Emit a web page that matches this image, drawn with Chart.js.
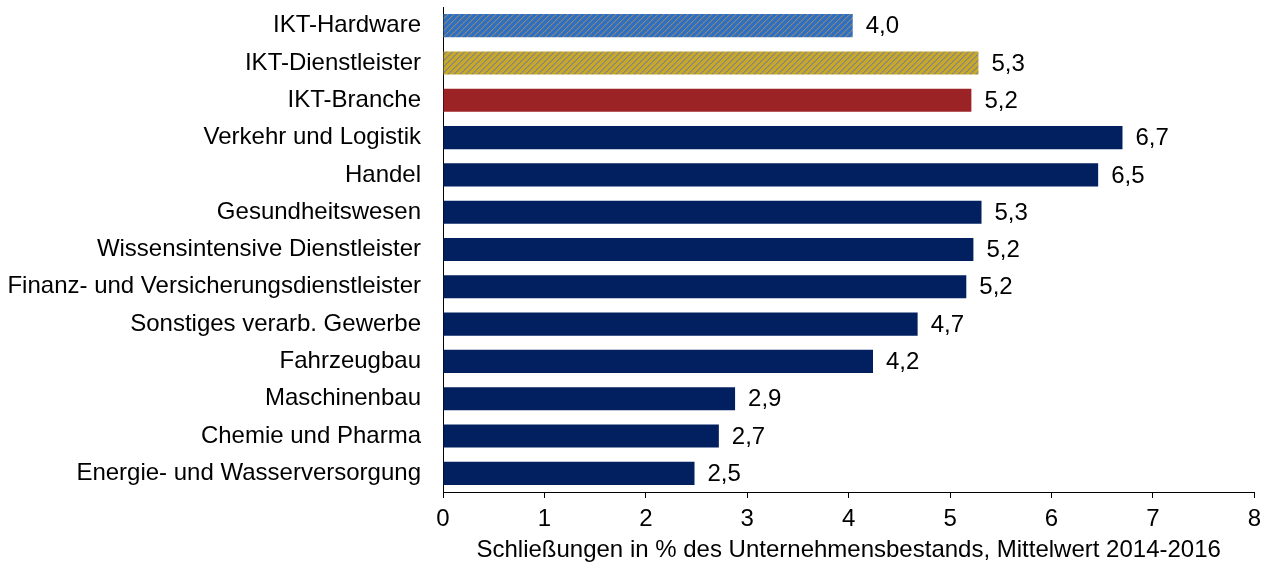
<!DOCTYPE html>
<html>
<head>
<meta charset="utf-8">
<script src="https://cdn.jsdelivr.net/npm/chart.js@4"></script>
<style>
  html, body { margin: 0; padding: 0; background: #fff; }
  #wrap { width: 1268px; height: 565px; }
</style>
</head>
<body>
<div id="wrap"><canvas id="myChart" width="1268" height="565"></canvas></div>
<script>
"use strict";
const categories = [
  "IKT-Hardware",
  "IKT-Dienstleister",
  "IKT-Branche",
  "Verkehr und Logistik",
  "Handel",
  "Gesundheitswesen",
  "Wissensintensive Dienstleister",
  "Finanz- und Versicherungsdienstleister",
  "Sonstiges verarb. Gewerbe",
  "Fahrzeugbau",
  "Maschinenbau",
  "Chemie und Pharma",
  "Energie- und Wasserversorgung"
];
const closures = [4.04, 5.28, 5.21, 6.70, 6.46, 5.31, 5.23, 5.16, 4.68, 4.24, 2.88, 2.72, 2.48];
const xTicks = [0, 1, 2, 3, 4, 5, 6, 7, 8];
const xTitle = "Schließungen in % des Unternehmensbestands, Mittelwert 2014-2016";

const FONT = "'Liberation Sans', Arial, sans-serif";
const SIZE = 24;

// hatched fill: gray diagonal stripes on a colour
function hatch(base) {
  const n = 6;
  const c = document.createElement("canvas");
  c.width = n;
  c.height = n;
  const g = c.getContext("2d");
  g.fillStyle = base;
  g.fillRect(0, 0, n, n);
  for (let x = 0; x < n; x++) {
    const y = (n - 1 - x + n) % n;
    g.fillStyle = (x % 2) ? "#8c8c8c" : "#7f7f7f";
    g.fillRect(x, y, 1, 1);
    g.fillStyle = "rgba(128,128,128,0.55)";
    g.fillRect(x, (y + 1) % n, 1, 1);
  }
  return g.createPattern(c, "repeat");
}

const navy = "#022060";
const barColors = categories.map((c, i) => {
  if (i === 0) return hatch("#2d6fc0");
  if (i === 1) return hatch("#c8a829");
  if (i === 2) return "#9b2326";
  return navy;
});

// value labels at the end of every bar
const valueLabels = {
  id: "valueLabels",
  afterDatasetsDraw(chart) {
    const ctx = chart.ctx;
    const meta = chart.getDatasetMeta(0);
    ctx.save();
    ctx.font = SIZE + "px " + FONT;
    ctx.fillStyle = "#000";
    ctx.textAlign = "left";
    ctx.textBaseline = "middle";
    meta.data.forEach((bar, i) => {
      const txt = closures[i].toFixed(1).replace(".", ",");
      ctx.fillText(txt, bar.x + 13, bar.y + 1);
    });
    ctx.restore();
  }
};

const ctx = document.getElementById("myChart");
const myChart = new Chart(ctx, {
  type: "bar",
  data: {
    labels: categories,
    datasets: [{
      data: closures,
      backgroundColor: barColors,
      borderWidth: 0,
      barPercentage: 0.62,
      categoryPercentage: 1
    }]
  },
  options: {
    indexAxis: "y",
    responsive: false,
    animation: false,
    events: [],
    layout: { padding: { top: 7, right: 13, bottom: 0, left: 0 } },
    plugins: {
      legend: { display: false },
      tooltip: { enabled: false }
    },
    scales: {
      x: {
        min: 0,
        max: 8,
        afterBuildTicks(scale) {
          scale.ticks = xTicks.map(v => ({ value: v }));
        },
        afterFit(scale) { scale.height = 73; },
        grid: {
          display: true,
          drawOnChartArea: false,
          drawTicks: true,
          tickLength: 6,
          color: "#000",
          lineWidth: 1
        },
        border: { display: true, color: "#000", width: 1 },
        ticks: {
          color: "#000",
          padding: 7,
          font: { family: FONT, size: SIZE },
          maxRotation: 0
        },
        title: {
          display: true,
          text: xTitle,
          color: "#000",
          font: { family: FONT, size: SIZE },
          padding: { top: 0, bottom: 0 }
        }
      },
      y: {
        afterFit(scale) {
          scale.width = 443;
          scale.paddingTop = 0;
          scale.paddingBottom = 0;
        },
        grid: { display: false, drawTicks: false },
        border: { display: true, color: "#000", width: 1 },
        ticks: {
          color: "#000",
          padding: 22,
          font: { family: FONT, size: SIZE },
          autoSkip: false
        }
      }
    }
  },
  plugins: [valueLabels]
});
</script>
</body>
</html>
